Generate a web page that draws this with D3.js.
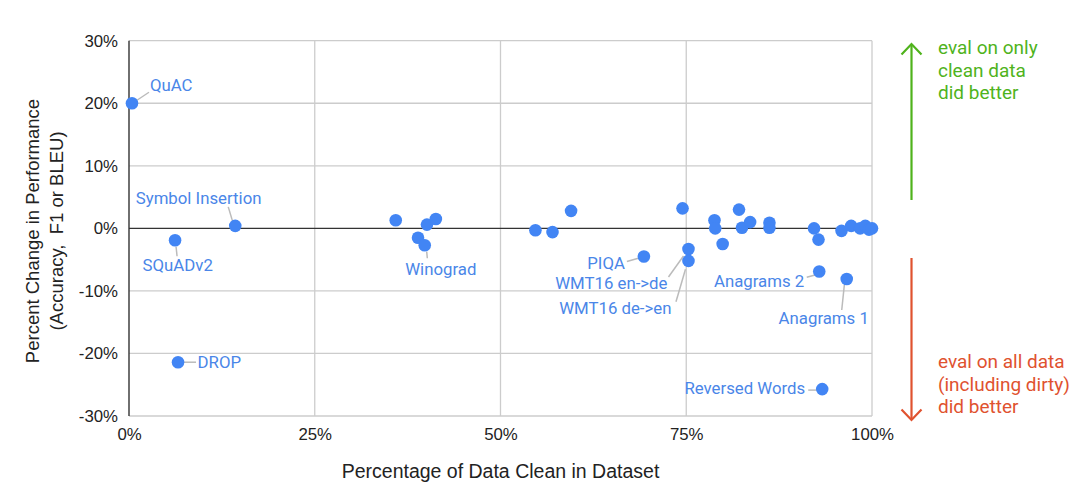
<!DOCTYPE html>
<html><head><meta charset="utf-8">
<script src="https://cdn.jsdelivr.net/npm/d3@7/dist/d3.min.js"></script>
<style>
html,body{margin:0;padding:0;background:#fff;}
svg{display:block;}
</style></head>
<body>
<script>
// ---- data ----
const names = ["QuAC","DROP","SQuADv2","Symbol Insertion","","","Winograd","","",
  "","","","PIQA","","WMT16 en->de","WMT16 de->en","","","","","","","","",
  "","","Anagrams 2","Reversed Words","","Anagrams 1","","","","",""];
const cleanPct = [0.4,6.6,6.2,14.3,35.9,38.9,39.8,40.1,41.3,
  54.7,57.0,59.5,69.3,74.5,75.3,75.3,78.8,78.9,79.9,82.1,82.5,83.6,86.2,86.2,
  92.2,92.8,92.9,93.3,95.9,96.6,97.2,98.4,99.1,99.6,100.0];
const perfChange = [20.0,-21.4,-1.9,0.4,1.3,-1.5,-2.7,0.6,1.5,
  -0.3,-0.6,2.8,-4.5,3.2,-3.3,-5.2,1.3,0.0,-2.5,3.0,0.1,1.0,0.9,0.1,
  0.0,-1.8,-6.9,-25.7,-0.4,-8.1,0.4,0.0,0.4,-0.2,0.0];
const xTicks = [0,25,50,75,100];
const yTicks = [-30,-20,-10,0,10,20,30];
const xTitle = "Percentage of Data Clean in Dataset";
const yTitle = ["Percent Change in Performance","(Accuracy,  F1 or BLEU)"];
const upNote = ["eval on only","clean data","did better"];
const downNote = ["eval on all data","(including dirty)","did better"];

// ---- label layout (pixel offsets from point) ----
const labelLayout = {
  "QuAC":{dx:18,dy:-12,anchor:"start",l:[[5,-3],[17,-11]]},
  "Symbol Insertion":{dx:-99.5,dy:-22,anchor:"start",l:[[-7,-19],[-2.5,-4]]},
  "SQuADv2":{dx:-32.5,dy:31,anchor:"start",l:[[1,6.5],[2,16]]},
  "DROP":{dx:19.5,dy:6,anchor:"start",l:[[6,0],[18,0]]},
  "Winograd":{dx:-19.5,dy:30,anchor:"start",l:[[2,6.5],[2.6,13]]},
  "PIQA":{dx:-19,dy:13,anchor:"end",l:[[-5.6,1.8],[-17,5]]},
  "WMT16 en->de":{dx:-21,dy:40.5,anchor:"end",l:[[-5,7],[-20,28]]},
  "WMT16 de->en":{dx:-17,dy:53,anchor:"end",l:[[-3,8.4],[-12.5,40.8]]},
  "Anagrams 2":{dx:-15,dy:15.5,anchor:"end",l:[[-12.5,5.8],[-4.2,3.5]]},
  "Anagrams 1":{dx:-23,dy:44.5,anchor:"middle",l:[[-2.4,6],[-5,31]]},
  "Reversed Words":{dx:-17,dy:4.5,anchor:"end",l:[[-14,1],[-5.5,1]]}
};

const W=1092,H=503;
const svg=d3.select("body").append("svg").attr("width",W).attr("height",H);
const x=d3.scaleLinear().domain([0,100]).range([129,872]);
const y=d3.scaleLinear().domain([-30,30]).range([416,40.7]);
const axisFont="'Liberation Sans', Arial, sans-serif";
const labFont="Roboto, 'Noto Sans', sans-serif";

// gridlines
svg.append("g").selectAll("line").data(yTicks.filter(d=>d!==0)).join("line")
  .attr("x1",x(0)).attr("x2",x(100)).attr("y1",d=>y(d)).attr("y2",d=>y(d))
  .attr("stroke","#cccccc").attr("stroke-width",1.3);
svg.append("g").selectAll("line").data(xTicks.filter(d=>d!==0)).join("line")
  .attr("x1",d=>x(d)).attr("x2",d=>x(d)).attr("y1",y(30)).attr("y2",y(-30))
  .attr("stroke","#cccccc").attr("stroke-width",1.3);
// zero line & left axis
svg.append("line").attr("x1",x(0)).attr("x2",x(100)).attr("y1",y(0)).attr("y2",y(0))
  .attr("stroke","#333").attr("stroke-width",1.4);
svg.append("line").attr("x1",x(0)).attr("x2",x(0)).attr("y1",y(30)).attr("y2",y(-30))
  .attr("stroke","#333").attr("stroke-width",1.4);

// axes tick labels via d3 axes
const yAxis=d3.axisLeft(y).tickValues(yTicks).tickFormat(d=>d+"%").tickSize(0).tickPadding(11);
const gy=svg.append("g").attr("transform",`translate(${x(0)},0)`).call(yAxis);
gy.select(".domain").remove();
gy.selectAll("text").attr("font-family",axisFont).attr("font-size",16.8).attr("fill","#222");
const xAxis=d3.axisBottom(x).tickValues(xTicks).tickFormat(d=>d+"%").tickSize(0).tickPadding(12);
const gx=svg.append("g").attr("transform",`translate(0,${y(-30)})`).call(xAxis);
gx.select(".domain").remove();
gx.selectAll("text").attr("font-family",axisFont).attr("font-size",16.8).attr("fill","#222");

// axis titles
svg.append("text").attr("x",(x(0)+x(100))/2).attr("y",478).attr("text-anchor","middle")
  .attr("font-family",axisFont).attr("font-size",19.5).attr("fill","#222").text(xTitle);
const yt=svg.append("text").attr("transform","translate(0,231) rotate(-90)")
  .attr("text-anchor","middle").attr("font-family",axisFont).attr("font-size",18.5).attr("fill","#222")
  .style("white-space","pre");
yTitle.forEach((t,i)=>yt.append("tspan").attr("x",0).attr("y",39+i*24).text(t));

// data
const pts=cleanPct.map((v,i)=>({name:names[i],cx:x(v),cy:y(perfChange[i])}));
const labeled=pts.filter(p=>p.name&&labelLayout[p.name]);

// leader lines
svg.append("g").selectAll("line").data(labeled).join("line")
  .attr("x1",p=>p.cx+labelLayout[p.name].l[0][0]).attr("y1",p=>p.cy+labelLayout[p.name].l[0][1])
  .attr("x2",p=>p.cx+labelLayout[p.name].l[1][0]).attr("y2",p=>p.cy+labelLayout[p.name].l[1][1])
  .attr("stroke","#bbbbbb").attr("stroke-width",1.5);

// points
svg.append("g").selectAll("circle").data(pts).join("circle")
  .attr("cx",p=>p.cx).attr("cy",p=>p.cy).attr("r",6.3).attr("fill","#4285f4");

// labels
svg.append("g").selectAll("text").data(labeled).join("text")
  .attr("x",p=>p.cx+labelLayout[p.name].dx).attr("y",p=>p.cy+labelLayout[p.name].dy)
  .attr("text-anchor",p=>labelLayout[p.name].anchor)
  .attr("font-family",labFont).attr("font-size",16.8).attr("fill","#4a86e8").text(p=>p.name);

// annotations
const green="#4fb31c", red="#e0522f";
svg.append("line").attr("x1",911.5).attr("x2",911.5).attr("y1",44).attr("y2",200)
  .attr("stroke",green).attr("stroke-width",2.2);
svg.append("path").attr("d","M901.5,54.5L911.5,44L921.5,54.5").attr("fill","none")
  .attr("stroke",green).attr("stroke-width",2.2);
svg.append("line").attr("x1",911.5).attr("x2",911.5).attr("y1",258).attr("y2",420)
  .attr("stroke",red).attr("stroke-width",2.2);
svg.append("path").attr("d","M901.5,409.5L911.5,420L921.5,409.5").attr("fill","none")
  .attr("stroke",red).attr("stroke-width",2.2);
const gt=svg.append("text").attr("font-family",labFont).attr("font-size",19).attr("fill",green);
upNote.forEach((t,i)=>gt.append("tspan").attr("x",938).attr("y",54+i*22.5).text(t));
const rt=svg.append("text").attr("font-family",labFont).attr("font-size",19).attr("fill",red);
downNote.forEach((t,i)=>rt.append("tspan").attr("x",938).attr("y",368+i*22.5).text(t));
</script>
</body></html>
